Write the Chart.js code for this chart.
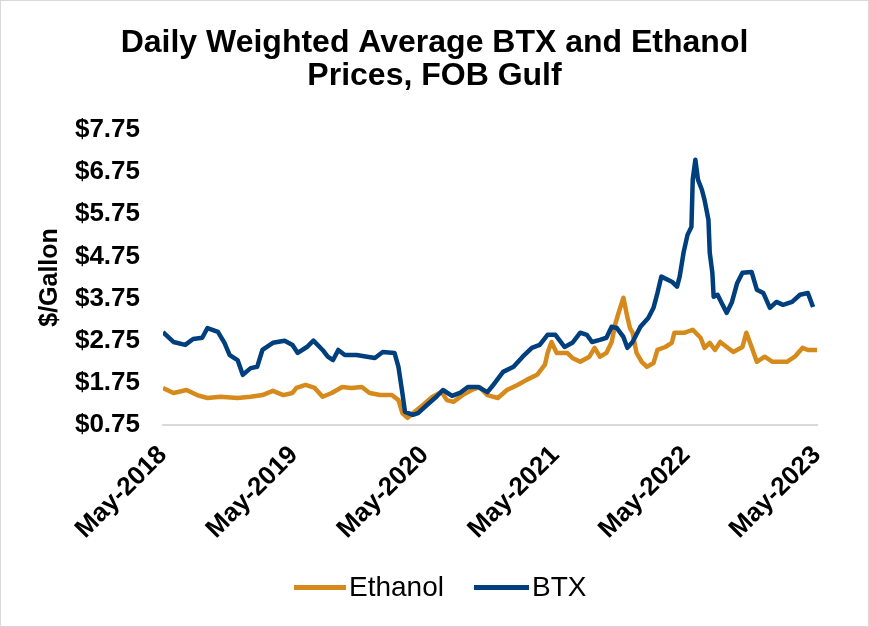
<!DOCTYPE html>
<html>
<head>
<meta charset="utf-8">
<script src="https://cdn.jsdelivr.net/npm/chart.js@4.4.0/dist/chart.umd.min.js"></script>
<style>
    html, body { margin: 0; padding: 0; background: #fff; }
    #wrap { position: relative; width: 869px; height: 627px; }
    #frame {
        position: absolute; left: 0; top: 0; width: 869px; height: 627px;
        box-sizing: border-box; border: 1px solid #d9d9d9; pointer-events: none;
    }
    .legend-item {
        position: absolute; top: 570px; height: 34px;
        display: flex; align-items: center;
        font: 28px "Liberation Sans", Arial, sans-serif; color: #000;
    }
    .legend-item .swatch { height: 5px; margin-right: 3px; }
</style>
</head>
<body>
<div id="wrap">
    <canvas id="priceChart" width="869" height="627"></canvas>
    <div class="legend-item" style="left:294px"><span class="swatch" style="width:52px;background:#d68a1c"></span>Ethanol</div>
    <div class="legend-item" style="left:474px"><span class="swatch" style="width:55px;background:#003f7d"></span>BTX</div>
    <div id="frame"></div>
</div>
<script>
// years since May-2018
const xTickValues = [0, 1, 2, 3, 4, 5];
const xTickLabels = ["May-2018", "May-2019", "May-2020", "May-2021", "May-2022", "May-2023"];
const yTickValues = [0.75, 1.75, 2.75, 3.75, 4.75, 5.75, 6.75, 7.75];

const btxT = [
    0.00, 0.08, 0.17, 0.23, 0.30, 0.34, 0.42, 0.47, 0.51, 0.57,
    0.61, 0.67, 0.72, 0.76, 0.84, 0.93, 0.99, 1.03, 1.10, 1.15,
    1.22, 1.26, 1.30, 1.34, 1.39, 1.48, 1.56, 1.62, 1.68, 1.77,
    1.80, 1.83, 1.85, 1.91, 1.95, 2.02, 2.09, 2.14, 2.21, 2.27,
    2.33, 2.41, 2.48, 2.52, 2.60, 2.68, 2.75, 2.82, 2.88, 2.94,
    3.00, 3.07, 3.13, 3.19, 3.24, 3.28, 3.34, 3.39, 3.43, 3.47,
    3.52, 3.55, 3.59, 3.65, 3.71, 3.75, 3.78, 3.81, 3.89, 3.93,
    3.95, 3.98, 4.01, 4.04, 4.05, 4.07, 4.09, 4.12, 4.14, 4.17,
    4.18, 4.20, 4.21, 4.24, 4.27, 4.31, 4.35, 4.39, 4.43, 4.50,
    4.54, 4.59, 4.64, 4.69, 4.74, 4.81, 4.87, 4.93, 4.97,
];
const btxV = [
    2.95, 2.72, 2.65, 2.79, 2.82, 3.05, 2.96, 2.70, 2.41, 2.29,
    1.94, 2.10, 2.13, 2.53, 2.70, 2.75, 2.65, 2.46, 2.60, 2.75,
    2.53, 2.37, 2.29, 2.53, 2.41, 2.41, 2.37, 2.34, 2.48, 2.46,
    2.13, 1.51, 1.06, 0.99, 1.03, 1.23, 1.42, 1.58, 1.44, 1.51,
    1.65, 1.65, 1.53, 1.68, 2.01, 2.13, 2.37, 2.58, 2.65, 2.89,
    2.89, 2.60, 2.70, 2.94, 2.89, 2.72, 2.77, 2.82, 3.08, 3.05,
    2.84, 2.58, 2.72, 3.08, 3.29, 3.53, 3.88, 4.27, 4.15, 4.03,
    4.27, 4.84, 5.26, 5.45, 6.57, 7.04, 6.57, 6.33, 6.09, 5.62,
    4.84, 4.36, 3.79, 3.84, 3.65, 3.41, 3.67, 4.12, 4.36, 4.38,
    3.96, 3.88, 3.53, 3.67, 3.60, 3.67, 3.84, 3.88, 3.55,
];

const ethT = [
    0.00, 0.08, 0.18, 0.26, 0.34, 0.44, 0.57, 0.67, 0.76, 0.84,
    0.92, 0.99, 1.02, 1.09, 1.16, 1.22, 1.29, 1.37, 1.44, 1.52,
    1.58, 1.66, 1.75, 1.80, 1.83, 1.87, 1.91, 1.99, 2.06, 2.13,
    2.17, 2.22, 2.29, 2.36, 2.42, 2.48, 2.56, 2.63, 2.71, 2.78,
    2.86, 2.92, 2.94, 2.97, 3.01, 3.09, 3.13, 3.19, 3.26, 3.30,
    3.34, 3.39, 3.43, 3.46, 3.49, 3.52, 3.55, 3.57, 3.59, 3.62,
    3.66, 3.70, 3.75, 3.78, 3.84, 3.89, 3.91, 3.99, 4.05, 4.11,
    4.14, 4.18, 4.22, 4.26, 4.31, 4.36, 4.43, 4.46, 4.50, 4.54,
    4.60, 4.66, 4.77, 4.83, 4.89, 4.93, 5.00,
];
const ethV = [
    1.63, 1.51, 1.58, 1.46, 1.39, 1.42, 1.39, 1.42, 1.46, 1.56,
    1.46, 1.51, 1.63, 1.70, 1.63, 1.42, 1.51, 1.65, 1.63, 1.65,
    1.51, 1.46, 1.46, 1.34, 1.03, 0.92, 1.03, 1.23, 1.42, 1.53,
    1.34, 1.30, 1.46, 1.58, 1.65, 1.46, 1.39, 1.58, 1.70, 1.82,
    1.94, 2.18, 2.46, 2.72, 2.46, 2.46, 2.34, 2.25, 2.37, 2.58,
    2.37, 2.46, 2.72, 3.17, 3.48, 3.77, 3.31, 3.05, 2.94, 2.46,
    2.25, 2.13, 2.22, 2.53, 2.60, 2.70, 2.94, 2.94, 3.01, 2.82,
    2.58, 2.70, 2.53, 2.72, 2.60, 2.48, 2.60, 2.94, 2.60, 2.25,
    2.37, 2.25, 2.25, 2.37, 2.58, 2.53, 2.53,
];

const btxColor = "#003f7d";
const ethColor = "#d68a1c";
const fontFamily = "'Liberation Sans', Arial, sans-serif";

const ctx = document.getElementById("priceChart").getContext("2d");
new Chart(ctx, {
    type: "line",
    data: {
        datasets: [
            {
                label: "BTX",
                data: btxT.map((t, i) => ({ x: t, y: btxV[i] })),
                borderColor: btxColor,
                backgroundColor: btxColor,
                borderWidth: 4.5,
                borderJoinStyle: "round",
                pointRadius: 0,
                tension: 0,
            },
            {
                label: "Ethanol",
                data: ethT.map((t, i) => ({ x: t, y: ethV[i] })),
                borderColor: ethColor,
                backgroundColor: ethColor,
                borderWidth: 4.5,
                borderJoinStyle: "round",
                pointRadius: 0,
                tension: 0,
            },
        ],
    },
    options: {
        responsive: false,
        animation: false,
        layout: {
            padding: 0,
        },
        plugins: {
            legend: { display: false },
            tooltip: { enabled: false },
            title: {
                display: true,
                text: ["Daily Weighted Average BTX and Ethanol", "Prices, FOB Gulf"],
                color: "#000",
                font: { family: fontFamily, size: 32, weight: "bold", lineHeight: 1.03 },
                padding: { top: 27, bottom: 37 },
            },
        },
        scales: {
            x: {
                type: "linear",
                min: 0,
                max: 5,
                grid: { display: false, drawTicks: false },
                border: { display: true, color: "#d9d9d9", width: 2 },
                afterBuildTicks: (scale) => {
                    scale.ticks = xTickValues.map((v) => ({ value: v }));
                },
                afterFit: (scale) => {
                    scale.height = 202;
                },
                ticks: {
                    autoSkip: false,
                    minRotation: 45,
                    maxRotation: 45,
                    padding: 15,
                    color: "#000",
                    font: { family: fontFamily, size: 26, weight: "bold" },
                    callback: (value) => xTickLabels[xTickValues.indexOf(value)],
                },
            },
            y: {
                min: 0.75,
                max: 7.75,
                grid: { display: false, drawTicks: false },
                border: { display: false },
                afterBuildTicks: (scale) => {
                    scale.ticks = yTickValues.map((v) => ({ value: v }));
                },
                afterFit: (scale) => {
                    scale.width = 163;
                },
                ticks: {
                    padding: 23,
                    color: "#000",
                    font: { family: fontFamily, size: 26, weight: "bold" },
                    callback: (value) => "$" + value.toFixed(2),
                },
                title: {
                    display: true,
                    text: "$/Gallon",
                    color: "#000",
                    font: { family: fontFamily, size: 25, weight: "bold" },
                    padding: { top: 35, bottom: 0 },
                },
            },
            // empty right-hand strip so the plot ends where the reference does
            spacer: {
                position: "right",
                display: true,
                grid: { display: false, drawTicks: false },
                border: { display: false },
                ticks: { display: false },
                afterFit: (scale) => {
                    scale.width = 52;
                },
            },
        },
    },
});
</script>
</body>
</html>
